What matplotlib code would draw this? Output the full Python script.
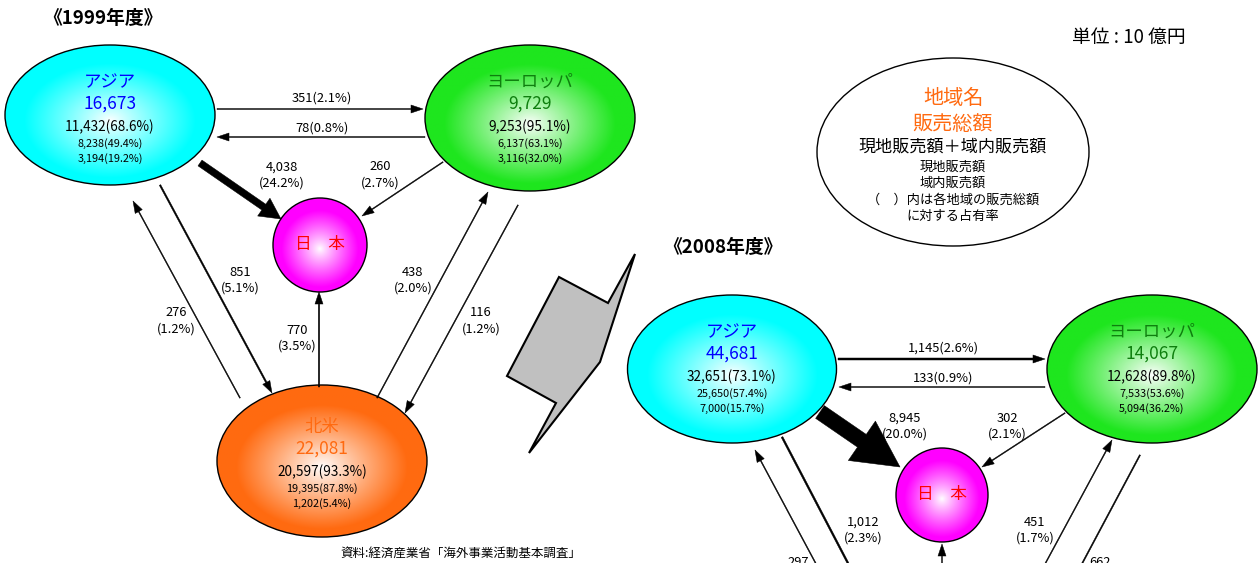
import numpy as np
import matplotlib.pyplot as plt
from matplotlib.patches import Ellipse, FancyArrowPatch, Polygon

plt.rcParams['font.family'] = ['Noto Sans CJK JP', 'DejaVu Sans']

# 地域別の販売額（単位：10億円）
regions = ["アジア", "ヨーロッパ", "北米"]

total_1999 = [16673, 9729, 22081]
combined_1999 = [11432, 9253, 20597]
combined_pct_1999 = [68.6, 95.1, 93.3]
local_1999 = [8238, 6137, 19395]
local_pct_1999 = [49.4, 63.1, 87.8]
intra_1999 = [3194, 3116, 1202]
intra_pct_1999 = [19.2, 32.0, 5.4]

total_2008 = [44681, 14067]
combined_2008 = [32651, 12628]
combined_pct_2008 = [73.1, 89.8]
local_2008 = [25650, 7533]
local_pct_2008 = [57.4, 53.6]
intra_2008 = [7000, 5094]
intra_pct_2008 = [15.7, 36.2]

# 地域間の販売フロー
flow_src_1999 = ["アジア", "ヨーロッパ", "アジア", "ヨーロッパ", "アジア", "北米", "北米", "北米", "ヨーロッパ"]
flow_dst_1999 = ["ヨーロッパ", "アジア", "日本", "日本", "北米", "アジア", "日本", "ヨーロッパ", "北米"]
flow_val_1999 = [351, 78, 4038, 260, 851, 276, 770, 438, 116]
flow_pct_1999 = [2.1, 0.8, 24.2, 2.7, 5.1, 1.2, 3.5, 2.0, 1.2]

flow_src_2008 = ["アジア", "ヨーロッパ", "アジア", "ヨーロッパ", "アジア", "北米", "北米", "北米", "ヨーロッパ"]
flow_dst_2008 = ["ヨーロッパ", "アジア", "日本", "日本", "北米", "アジア", "日本", "ヨーロッパ", "北米"]
flow_val_2008 = [1145, 133, 8945, 302, 1012, 297, None, 451, 662]
flow_pct_2008 = [2.6, 0.9, 20.0, 2.1, 2.3, None, None, 1.7, None]

# 配置（ピクセル座標）
node_1999 = {"アジア": (110, 115, 210, 140), "ヨーロッパ": (530, 118, 210, 146),
             "北米": (322, 461, 210, 152), "日本": (320, 245, 94, 94)}
node_2008 = {"アジア": (732, 369, 209, 148), "ヨーロッパ": (1152, 369, 210, 148),
             "日本": (942, 495, 92, 94)}
text_top_1999 = {"アジア": 82, "ヨーロッパ": 82, "北米": 427}
text_top_2008 = {"アジア": 332, "ヨーロッパ": 332}

arrow_xy_1999 = [((217, 109), (423, 109)), ((425, 137), (217, 137)), ((200, 163), (281, 219)),
                 ((443, 162), (362, 216)), ((160, 185), (272, 393)), ((240, 398), (133, 201)),
                 ((319, 387), (319, 292)), ((377, 398), (488, 192)), ((518, 205), (405, 413))]
label_xy_1999 = [(322, 98), (322, 128), (282, 175), (380, 175), (240, 280), (176, 321),
                 (297, 338), (413, 280), (481, 321)]
one_line_1999 = [True, True, False, False, False, False, False, False, False]

arrow_xy_2008 = [((838, 359), (1045, 359)), ((1045, 387), (839, 387)), ((820, 412), (900, 467)),
                 ((1065, 413), (982, 467)), ((782, 437), (862, 590)), ((830, 590), (755, 450)),
                 ((942, 600), (942, 544)), ((1031, 590), (1112, 440)), ((1140, 455), (1068, 590))]
label_xy_2008 = [(943, 348), (943, 378), (905, 426), (1007, 426), (863, 530), (798, 562),
                 None, (1035, 530), (1100, 562)]
one_line_2008 = [True, True, False, False, False, True, False, False, True]

colors = {"アジア": "#00ffff", "ヨーロッパ": "#1ee61e", "北米": "#ff6a10", "日本": "#ff00ff"}
text_colors = {"アジア": "#0000ff", "ヨーロッパ": "#0e7f0e", "北米": "#ff6a10"}

bolt = [(559, 277), (608, 303), (635, 254), (600, 362), (529, 453), (556, 403), (507, 376)]


def blob(ax, cx, cy, w, h, color, edge='black'):
    n = 240
    yy, xx = np.mgrid[-1:1:n * 1j, -1:1:n * 1j]
    r = np.sqrt(xx ** 2 + (yy - 0.08) ** 2)
    m = np.clip(r / 0.82, 0, 1) ** 0.9
    base = np.array(plt.matplotlib.colors.to_rgb(color))
    rgb = 1 - (1 - base)[None, None, :] * m[..., None]
    im = ax.imshow(rgb, extent=(cx - w / 2, cx + w / 2, cy + h / 2, cy - h / 2),
                   interpolation='bilinear', zorder=2)
    e = Ellipse((cx, cy), w, h, fc='none', ec=edge, lw=1.0, zorder=3)
    ax.add_patch(e)
    im.set_clip_path(e)


def region_text(ax, cx, y0, name, tot, comb, cp, loc, lp, intra, ip):
    c = text_colors[name]
    ax.text(cx, y0, name, color=c, fontsize=12.5, ha='center', va='center', zorder=5)
    ax.text(cx, y0 + 22, f"{tot:,}", color=c, fontsize=12.5, ha='center', va='center', zorder=5)
    ax.text(cx, y0 + 45, f"{comb:,}({cp:.1f}%)", fontsize=9.8, ha='center', va='center', zorder=5)
    ax.text(cx, y0 + 62, f"{loc:,}({lp:.1f}%)", fontsize=7.8, ha='center', va='center', zorder=5)
    ax.text(cx, y0 + 77, f"{intra:,}({ip:.1f}%)", fontsize=7.8, ha='center', va='center', zorder=5)


def flow(ax, p0, p1, v):
    v = v if v is not None else 0
    tw = max(0.9, v / 580)
    hw = max(8, tw * 3.1)
    hl = max(12, tw * 3.0)
    style = f"simple,head_length={hl},head_width={hw},tail_width={tw}"
    a = FancyArrowPatch(p0, p1, arrowstyle=style, mutation_scale=0.72,
                        fc='black', ec='black', lw=0.35, shrinkA=0, shrinkB=0, zorder=4)
    ax.add_patch(a)


def flow_label(ax, xy, v, p, one_line):
    if xy is None or v is None:
        return
    if p is None:
        s = f"{v:,}"
    elif one_line:
        s = f"{v:,}({p:.1f}%)"
    else:
        s = f"{v:,}\n({p:.1f}%)"
    ax.text(xy[0], xy[1], s, fontsize=9.3, ha='center', va='center',
            linespacing=1.3, zorder=5)


fig = plt.figure(figsize=(12.6, 5.63), dpi=100)
ax = fig.add_axes([0, 0, 1, 1])

# 1999年度
for name, (cx, cy, w, h) in node_1999.items():
    blob(ax, cx, cy, w, h, colors[name])
for i, name in enumerate(regions):
    region_text(ax, node_1999[name][0], text_top_1999[name], name, total_1999[i],
                combined_1999[i], combined_pct_1999[i], local_1999[i], local_pct_1999[i],
                intra_1999[i], intra_pct_1999[i])
for i in range(len(flow_val_1999)):
    flow(ax, *arrow_xy_1999[i], flow_val_1999[i])
    flow_label(ax, label_xy_1999[i], flow_val_1999[i], flow_pct_1999[i], one_line_1999[i])

# 2008年度
for name, (cx, cy, w, h) in node_2008.items():
    blob(ax, cx, cy, w, h, colors[name])
for i, name in enumerate(regions[:2]):
    region_text(ax, node_2008[name][0], text_top_2008[name], name, total_2008[i],
                combined_2008[i], combined_pct_2008[i], local_2008[i], local_pct_2008[i],
                intra_2008[i], intra_pct_2008[i])
for i in range(len(flow_val_2008)):
    flow(ax, *arrow_xy_2008[i], flow_val_2008[i])
    flow_label(ax, label_xy_2008[i], flow_val_2008[i], flow_pct_2008[i], one_line_2008[i])

for node in (node_1999["日本"], node_2008["日本"]):
    ax.text(node[0], node[1], "日　本", color='#ff0000', fontsize=12,
            ha='center', va='center', zorder=5)

# 凡例
ax.add_patch(Ellipse((953, 152), 272, 188, fc='white', ec='black', lw=1.0, zorder=2))
ax.text(953, 98, "地域名", color='#ff6a10', fontsize=14.5, ha='center', va='center')
ax.text(953, 124, "販売総額", color='#ff6a10', fontsize=14.5, ha='center', va='center')
ax.text(953, 147, "現地販売額＋域内販売額", fontsize=12.3, ha='center', va='center')
ax.text(953, 167, "現地販売額", fontsize=9.5, ha='center', va='center')
ax.text(953, 183, "域内販売額", fontsize=9.5, ha='center', va='center')
ax.text(953, 200, "（　）内は各地域の販売総額", fontsize=9.5, ha='center', va='center')
ax.text(953, 216, "に対する占有率", fontsize=9.5, ha='center', va='center')

# 年度の区切り
ax.add_patch(Polygon(bolt, closed=True, fc='#c0c0c0', ec='black', lw=1.5, zorder=2))

ax.text(103, 18, "《1999年度》", fontsize=13.5, fontweight='bold', ha='center', va='center')
ax.text(723, 247, "《2008年度》", fontsize=13.5, fontweight='bold', ha='center', va='center')
ax.text(1129, 37, "単位 : 10 億円", fontsize=13.5, ha='center', va='center')
ax.text(461, 553, "資料:経済産業省「海外事業活動基本調査」", fontsize=9, ha='center', va='center')

ax.set_xlim(0, 1260)
ax.set_ylim(563, 0)
ax.set_aspect('auto')
ax.axis('off')

fig.savefig("out.png", dpi=100)
